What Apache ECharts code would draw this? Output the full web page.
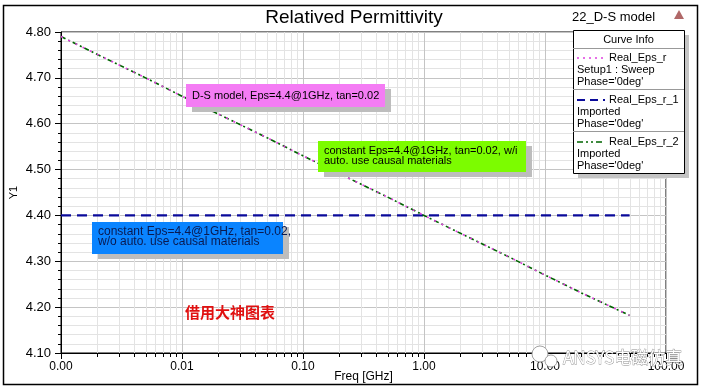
<!DOCTYPE html>
<html><head><meta charset="utf-8">
<script src="https://cdn.jsdelivr.net/npm/echarts@6/dist/echarts.min.js"></script>
<style>html,body{margin:0;padding:0;background:#fff}#c{width:703px;height:389px}</style>
</head><body><div id="c"></div>
<script>
const freq = [0.001, 0.002, 0.005, 0.01, 0.02, 0.05, 0.1, 0.2, 0.5, 1, 2, 5, 10, 20, 50];
const realEpsR = [4.790, 4.751, 4.700, 4.660, 4.621, 4.570, 4.530, 4.491, 4.440, 4.400, 4.361, 4.310, 4.270, 4.231, 4.182];
const realEpsR1 = [4.400, 4.400, 4.400, 4.400, 4.400, 4.400, 4.400, 4.400, 4.400, 4.400, 4.400, 4.400, 4.400, 4.400, 4.400];
const realEpsR2 = [4.790, 4.751, 4.700, 4.660, 4.621, 4.570, 4.530, 4.491, 4.440, 4.400, 4.361, 4.310, 4.270, 4.231, 4.182];
const minorFreq = [];
[0.001, 0.01, 0.1, 1, 10].forEach(d => { for (let k = 2; k <= 9; k++) minorFreq.push(+(k * d).toPrecision(3)); });
const yTicks = ['4.10','4.20','4.30','4.40','4.50','4.60','4.70','4.80'];

const FONT = 'Liberation Sans, Arial, sans-serif';
const pair = (xs, ys) => xs.map((x, i) => [x, ys[i]]);

const chart = echarts.init(document.getElementById('c'), null, {renderer: 'canvas'});

function minorRender(params, api) {
  const x = api.value(0);
  const p0 = api.coord([x, 4.1]);
  const p1 = api.coord([x, 4.8]);
  const px = Math.round(p0[0]) + 0.5;
  return {type: 'group', children: [
    {type: 'line', shape: {x1: px, y1: p0[1], x2: px, y2: p1[1]}, style: {stroke: '#e3e3e3', lineWidth: 1}},
    {type: 'line', shape: {x1: px, y1: p0[1], x2: px, y2: p0[1] + 4}, style: {stroke: '#000', lineWidth: 1}}
  ]};
}

function box(x, y, w, h, color, lines, textColor, fs) {
  return [
    {type: 'rect', shape: {x: x + 6, y: y + 5, width: w, height: h}, style: {fill: '#bdbdbd'}, z: 50},
    {type: 'rect', shape: {x: x, y: y, width: w, height: h}, style: {fill: color}, z: 51},
    {type: 'text', x: x + 6, y: y + (lines.length === 1 ? h / 2 : 5), z: 52,
      style: {text: lines.join('\n'), font: fs + 'px ' + FONT, fill: textColor || '#000',
        lineHeight: 10, verticalAlign: lines.length === 1 ? 'middle' : 'top'}}
  ];
}

const legendX = 573, legendY = 30, legendW = 111, legendH = 143;
const legendEls = [
  {type: 'rect', shape: {x: legendX + 5, y: legendY + 5, width: legendW, height: legendH}, style: {fill: '#c4c4c4'}, z: 60},
  {type: 'rect', shape: {x: legendX + 0.5, y: legendY + 0.5, width: legendW, height: legendH}, style: {fill: '#fff', stroke: '#000', lineWidth: 1}, z: 61},
  {type: 'text', x: legendX + legendW / 2, y: 40, z: 62, style: {text: 'Curve Info', font: '11px ' + FONT, fill: '#000', align: 'center', verticalAlign: 'middle'}},
  {type: 'line', shape: {x1: legendX, y1: 48.5, x2: legendX + legendW, y2: 48.5}, style: {stroke: '#999', lineWidth: 1}, z: 62},
  {type: 'line', shape: {x1: legendX, y1: 89.5, x2: legendX + legendW, y2: 89.5}, style: {stroke: '#999', lineWidth: 1}, z: 62},
  {type: 'line', shape: {x1: legendX, y1: 131.5, x2: legendX + legendW, y2: 131.5}, style: {stroke: '#999', lineWidth: 1}, z: 62},
  {type: 'line', shape: {x1: 577, y1: 58, x2: 605, y2: 58}, style: {stroke: '#e040e0', lineWidth: 1.5, lineDash: [2, 4]}, z: 62},
  {type: 'line', shape: {x1: 577, y1: 100, x2: 605, y2: 100}, style: {stroke: '#0a0a9a', lineWidth: 2, lineDash: [8, 5]}, z: 62},
  {type: 'line', shape: {x1: 577, y1: 142, x2: 605, y2: 142}, style: {stroke: '#006400', lineWidth: 1.5, lineDash: [6, 3, 2, 3, 2, 3]}, z: 62},
  {type: 'text', x: 609, y: 58, z: 62, style: {text: 'Real_Eps_r', font: '11px ' + FONT, fill: '#000', verticalAlign: 'middle'}},
  {type: 'text', x: 577, y: 64, z: 62, style: {text: "Setup1 : Sweep\nPhase='0deg'", font: '11px ' + FONT, fill: '#000', verticalAlign: 'top', lineHeight: 12}},
  {type: 'text', x: 609, y: 100, z: 62, style: {text: 'Real_Eps_r_1', font: '11px ' + FONT, fill: '#000', verticalAlign: 'middle'}},
  {type: 'text', x: 577, y: 106, z: 62, style: {text: "Imported\nPhase='0deg'", font: '11px ' + FONT, fill: '#000', verticalAlign: 'top', lineHeight: 12}},
  {type: 'text', x: 609, y: 142, z: 62, style: {text: 'Real_Eps_r_2', font: '11px ' + FONT, fill: '#000', verticalAlign: 'middle'}},
  {type: 'text', x: 577, y: 148, z: 62, style: {text: "Imported\nPhase='0deg'", font: '11px ' + FONT, fill: '#000', verticalAlign: 'top', lineHeight: 12}}
];

const option = {
  animation: false,
  backgroundColor: '#fff',
  textStyle: {fontFamily: FONT},
  title: {text: 'Relatived Permittivity', left: 349, top: 3, textAlign: 'center',
    textStyle: {fontSize: 19, fontWeight: 'normal', color: '#000', fontFamily: FONT}},
  grid: {left: 61, top: 32, right: 37, bottom: 36, show: true, borderColor: '#000', borderWidth: 1,
    backgroundColor: 'transparent', containLabel: false, outerBoundsMode: 'none'},
  xAxis: {
    type: 'log', logBase: 10, min: 0.001, max: 100,
    name: 'Freq [GHz]', nameLocation: 'middle', nameGap: 18, nameMoveOverlap: false,
    nameTextStyle: {fontSize: 12, color: '#000', fontFamily: FONT},
    axisLine: {show: true, onZero: false, lineStyle: {color: '#000', width: 1}},
    axisTick: {show: true, length: 6, lineStyle: {color: '#000'}},
    axisLabel: {color: '#000', fontSize: 12, fontFamily: FONT, margin: 8,
      formatter: v => Number(v).toFixed(2)},
    splitLine: {show: true, lineStyle: {color: '#c4c4c4', width: 1}}
  },
  yAxis: {
    type: 'value', min: 4.1, max: 4.8, interval: 0.1,
    name: 'Y1', nameLocation: 'middle', nameGap: 42, nameRotate: 90, nameMoveOverlap: false,
    nameTextStyle: {fontSize: 11, color: '#000', fontFamily: FONT},
    axisLine: {show: true, lineStyle: {color: '#000', width: 1}},
    axisTick: {show: true, length: 6, lineStyle: {color: '#000'}},
    minorTick: {show: true, splitNumber: 5, length: 3, lineStyle: {color: '#000'}},
    minorSplitLine: {show: true, lineStyle: {color: '#e3e3e3', width: 1}},
    axisLabel: {color: '#000', fontSize: 13, fontFamily: FONT, margin: 10,
      formatter: v => yTicks[Math.round((v - 4.1) * 10)] || v.toFixed(2)},
    splitLine: {show: true, lineStyle: {color: '#c4c4c4', width: 1}}
  },
  series: [
    {type: 'custom', name: 'minorgrid', data: minorFreq.map(f => [f]), renderItem: minorRender,
      clip: false, silent: true, z: 0, encode: {x: 0}},
    {type: 'line', name: 'Real_Eps_r_1', data: pair(freq, realEpsR1), showSymbol: false, symbol: 'none',
      lineStyle: {color: '#0a0a9a', width: 2.2, type: [10, 6]}, z: 3},
    {type: 'line', name: 'Real_Eps_r_2', data: pair(freq, realEpsR2), showSymbol: false, symbol: 'none',
      lineStyle: {color: '#006400', width: 1.6, type: [5, 3, 2, 3]}, z: 4},
    {type: 'line', name: 'Real_Eps_r', data: pair(freq, realEpsR), showSymbol: false, symbol: 'none',
      lineStyle: {color: '#e040e0', width: 1.6, type: [2, 6]}, z: 5}
  ],
  graphic: [
    {type: 'rect', shape: {x: 3.5, y: 5.5, width: 694, height: 379}, style: {fill: 'none', stroke: '#000', lineWidth: 1.5}, z: 100, silent: true},
    {type: 'text', x: 572, y: 17, style: {text: '22_D-S model', font: '13px ' + FONT, fill: '#000', verticalAlign: 'middle'}, z: 70},
    {type: 'polygon', shape: {points: [[679, 10], [674, 19], [684, 19]]}, style: {fill: '#b06868'}, z: 70},
    ...box(186, 84, 199, 23, '#f47cf4', ['D-S model, Eps=4.4@1GHz, tan=0.02'], '#000', 11),
    ...box(318, 141, 208, 31, '#7cfc00', ['constant Eps=4.4@1GHz, tan=0.02, w/i', 'auto. use causal materials'], '#000', 11),
    ...box(92, 222, 191, 32, '#0a84ff', ['constant Eps=4.4@1GHz, tan=0.02,', 'w/o auto. use causal materials'], '#0a1a50', 12),
    {type: 'text', x: 185, y: 312, z: 70, style: {text: '借用大神图表', font: 'bold 15px "Noto Sans CJK SC", sans-serif', fill: '#e01010', verticalAlign: 'middle'}},
    {type: 'circle', shape: {cx: 540, cy: 354, r: 8}, style: {fill: '#fff', stroke: 'rgba(140,140,140,0.8)', lineWidth: 1}, z: 80},
    {type: 'circle', shape: {cx: 551, cy: 361, r: 6}, style: {fill: '#fff', stroke: 'rgba(140,140,140,0.8)', lineWidth: 1}, z: 80},
    {type: 'text', x: 563, y: 358, z: 80, style: {text: 'ANSYS电磁仿真', font: '17px "Noto Sans CJK SC", sans-serif', fill: '#fff', stroke: 'rgba(120,120,120,0.85)', lineWidth: 0.8, verticalAlign: 'middle'}},
    ...legendEls
  ]
};
chart.setOption(option);
</script></body></html>
